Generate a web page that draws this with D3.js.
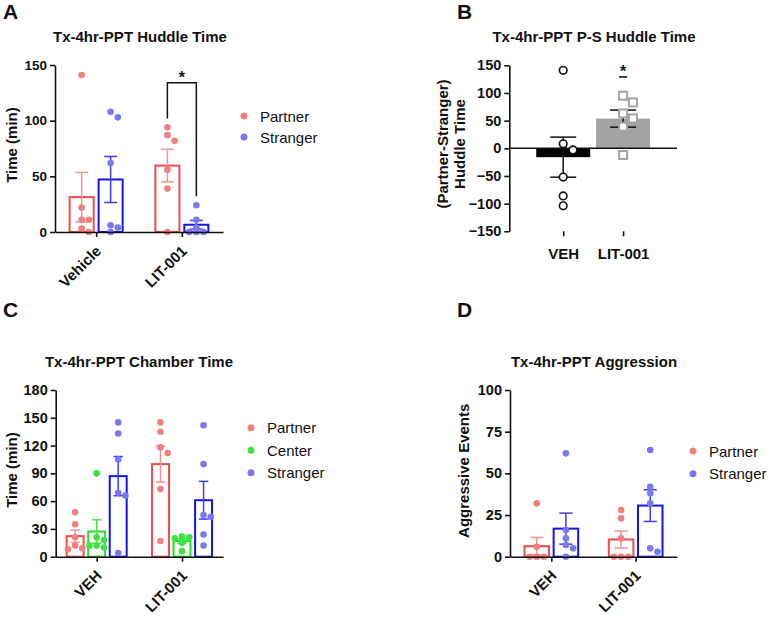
<!DOCTYPE html>
<html>
<head>
<meta charset="utf-8">
<script src="https://cdn.jsdelivr.net/npm/d3@7"></script>
<style>
  body { margin: 0; background: #fff; }
  svg { font-family: "Liberation Sans", Arial, sans-serif; }
</style>
</head>
<body>
<div id="chart"></div>
<script>
// ---- data ----
// A: huddle time (min)
var aGroups = ["Vehicle", "LIT-001"];
var aPartner = [[141, 22, 11, 11, 3, 0], [94, 87, 82, 56, 39, 0]];
var aStranger = [[108, 103, 62, 6, 4, 0], [24, 11, 4, 0, 0, 0]];
var aTicks = [0, 50, 100, 150];

// B: partner - stranger huddle time
var bGroups = ["VEH", "LIT-001"];
var bDiff = [[141, 8, -3, -52, -86, -104], [95, 83, 63, 54, 39, -12]];
var bTicks = [-150, -100, -50, 0, 50, 100, 150];

// C: chamber time (min)
var cGroups = ["VEH", "LIT-001"];
var cPartner = [[48, 35, 21, 12, 9, 8], [145, 135, 118, 112, 73, 17]];
var cCenter = [[90, 21, 18, 12, 12, 10], [22, 21, 20, 17, 15, 6]];
var cStranger = [[145, 133, 105, 69, 66, 4], [142, 100, 45, 43, 24, 12]];
var cTicks = [0, 30, 60, 90, 120, 150, 180];

// D: aggressive events
var dGroups = ["VEH", "LIT-001"];
var dPartner = [[32, 6, 0, 0, 0, 0], [28, 23, 11, 0, 0, 0]];
var dStranger = [[62, 16, 11, 7, 5, 0], [64, 42, 38, 32, 5, 3]];
var dTicks = [0, 25, 50, 75, 100];

// colours
var partnerCol = { bar: "#f24c4c", dot: "#f27f7f", err: "#f59393" };
var centerCol = { bar: "#22dd22", dot: "#3fe33f", err: "#4ce24c" };
var strangerCol = { bar: "#1414f0", dot: "#7878f2", err: "#3c3cf0" };

var W = 768, H = 618;
var svg = d3.select("#chart").append("svg")
  .attr("width", W)
  .attr("height", H);

function sem(a) { return d3.deviation(a) / Math.sqrt(a.length); }

// simple beeswarm so dots with close values sit side by side
function swarm(vals, y, r, maxOff) {
  var placed = [];
  var step = 2 * r + 0.6;
  return vals.map(function(v) {
    var py = y(v);
    var cands = [0];
    for (var k = 1; k < 6; k++) { cands.push(k * step, -k * step); }
    var off = 0;
    for (var i = 0; i < cands.length; i++) {
      var c = cands[i];
      if (Math.abs(c) > maxOff) continue;
      var ok = placed.every(function(p) { return Math.hypot(p[0] - c, p[1] - py) >= 2 * r; });
      if (ok) { off = c; break; }
    }
    placed.push([off, py]);
    return { v: v, dx: off };
  });
}

function styleAxis(sel, fontSize) {
  sel.selectAll("path, line").attr("stroke", "#111").attr("stroke-width", 1.6);
  sel.selectAll("text")
    .attr("fill", "#111")
    .attr("font-size", fontSize + "px")
    .attr("font-weight", "bold")
    .attr("font-family", "Liberation Sans, Arial, sans-serif");
}

function panelText(x, y, txt, size, weight, anchor) {
  return svg.append("text")
    .attr("x", x).attr("y", y)
    .attr("font-size", size + "px")
    .attr("font-weight", weight)
    .attr("text-anchor", anchor || "start")
    .attr("fill", "#111")
    .text(txt);
}

function groupedPanel(cfg) {
  var g = svg.append("g");
  var y = d3.scaleLinear().domain(cfg.domain).range([cfg.yBottom, cfg.yTop]);
  var x = d3.scalePoint().domain(cfg.groups).range([cfg.xLeft, cfg.xRight]).padding(cfg.pad);
  var names = cfg.series.map(function(s) { return s.name; });
  var inner = d3.scaleBand().domain(names)
    .range([-cfg.groupW / 2, cfg.groupW / 2])
    .paddingInner(cfg.innerPad);
  var bw = inner.bandwidth();

  // bars + error bars + dots
  cfg.series.forEach(function(s) {
    cfg.groups.forEach(function(grp, gi) {
      var vals = s.values[gi];
      var m = d3.mean(vals), e = sem(vals);
      var x0 = x(grp) + inner(s.name);
      var cx = x0 + bw / 2;
      g.append("rect")
        .attr("x", x0 + 1)
        .attr("y", y(m))
        .attr("width", bw - 2)
        .attr("height", cfg.yBottom - y(m))
        .attr("fill", "white")
        .attr("stroke", s.col.bar)
        .attr("stroke-width", 2);
      var eg = g.append("g").attr("stroke", s.col.err).attr("stroke-width", 1.5);
      eg.append("line").attr("x1", cx).attr("x2", cx).attr("y1", y(m - e)).attr("y2", y(m + e));
      [m - e, m + e].forEach(function(v) {
        eg.append("line").attr("x1", cx - bw / 4).attr("x2", cx + bw / 4).attr("y1", y(v)).attr("y2", y(v));
      });
      g.selectAll(null)
        .data(swarm(vals, y, cfg.r, bw / 2 - 1))
        .enter()
        .append("circle")
        .attr("cx", function(d) { return cx + d.dx; })
        .attr("cy", function(d) { return y(d.v); })
        .attr("r", cfg.r)
        .attr("fill", s.col.dot);
    });
  });

  // axes
  var ya = g.append("g")
    .attr("transform", "translate(" + cfg.xLeft + ",0)")
    .call(d3.axisLeft(y).tickValues(cfg.ticks).tickSize(5).tickSizeOuter(0).tickPadding(3));
  styleAxis(ya, cfg.tickFont);
  var xa = g.append("g")
    .attr("transform", "translate(0," + cfg.yBottom + ")")
    .call(d3.axisBottom(x).tickSize(5).tickSizeOuter(0).tickFormat(""));
  styleAxis(xa, cfg.tickFont);

  // rotated group labels
  cfg.groups.forEach(function(grp) {
    g.append("text")
      .attr("transform", "translate(" + (x(grp) + 6) + "," + (cfg.yBottom + 20) + ") rotate(-45)")
      .attr("text-anchor", "end")
      .attr("font-size", "15px")
      .attr("font-weight", "bold")
      .attr("fill", "#111")
      .text(grp);
  });

  // y label
  g.append("text")
    .attr("transform", "translate(" + cfg.yLabelX + "," + cfg.yLabelY + ") rotate(-90)")
    .attr("text-anchor", "middle")
    .attr("font-size", "15px")
    .attr("font-weight", "bold")
    .attr("fill", "#111")
    .text(cfg.yLabel);

  // legend
  cfg.series.forEach(function(s, i) {
    var ly = cfg.legY + i * cfg.legStep;
    g.append("circle").attr("cx", cfg.legX).attr("cy", ly).attr("r", 3.5).attr("fill", s.col.dot);
    g.append("text")
      .attr("x", cfg.legX + 16).attr("y", ly + 5.5)
      .attr("font-size", "15px")
      .attr("fill", "#111")
      .text(s.name);
  });

  return { x: x, y: y, inner: inner };
}

// ---------- Panel A ----------
panelText(3, 18.5, "A", 21, "bold");
panelText(140, 42, "Tx-4hr-PPT Huddle Time", 15, "bold", "middle");
var pa = groupedPanel({
  groups: aGroups,
  series: [
    { name: "Partner", values: aPartner, col: partnerCol },
    { name: "Stranger", values: aStranger, col: strangerCol }
  ],
  domain: [0, 150], ticks: aTicks,
  xLeft: 55, xRight: 223, yTop: 65, yBottom: 232,
  pad: 0.48, groupW: 55, innerPad: 0.1, r: 3.3, tickFont: 13.5,
  yLabel: "Time (min)", yLabelX: 16.5, yLabelY: 145,
  legX: 244, legY: 116, legStep: 21
});

// significance bracket on LIT-001
(function() {
  var bx1 = pa.x("LIT-001") + pa.inner("Partner") + pa.inner.bandwidth() / 2;
  var bx2 = pa.x("LIT-001") + pa.inner("Stranger") + pa.inner.bandwidth() / 2;
  var top = pa.y(134);
  var l1 = pa.y(d3.max(aPartner[1]) + 8);
  var l2 = pa.y(d3.max(aStranger[1]) + 8);
  svg.append("path")
    .attr("d", "M" + bx1 + "," + l1 + "V" + top + "H" + bx2 + "V" + l2)
    .attr("fill", "none")
    .attr("stroke", "#111")
    .attr("stroke-width", 1.5);
  panelText((bx1 + bx2) / 2, top + 0.5, "*", 16, "bold", "middle");
})();

// ---------- Panel B ----------
panelText(457, 18.5, "B", 21, "bold");
panelText(594, 42, "Tx-4hr-PPT P-S Huddle Time", 15, "bold", "middle");
(function() {
  var g = svg.append("g");
  var yB = d3.scaleLinear().domain([-150, 150]).range([231.3, 65.3]);
  var xB = d3.scalePoint().domain(bGroups).range([509.3, 677]).padding(0.9);
  var bw = 54;
  var fills = ["#000", "#a3a3a3"];

  bGroups.forEach(function(grp, gi) {
    var vals = bDiff[gi];
    var m = d3.mean(vals);
    g.append("rect")
      .attr("x", xB(grp) - bw / 2)
      .attr("y", Math.min(yB(m), yB(0)))
      .attr("width", bw)
      .attr("height", Math.abs(yB(m) - yB(0)))
      .attr("fill", fills[gi]);
  });

  // zero line
  g.append("line")
    .attr("x1", 509.3).attr("x2", 677)
    .attr("y1", yB(0)).attr("y2", yB(0))
    .attr("stroke", "#111").attr("stroke-width", 1.6);

  bGroups.forEach(function(grp, gi) {
    var vals = bDiff[gi];
    var m = d3.mean(vals), e = sem(vals);
    var cx = xB(grp);
    var eg = g.append("g").attr("stroke", "#111").attr("stroke-width", 1.5);
    eg.append("line").attr("x1", cx).attr("x2", cx).attr("y1", yB(m - e)).attr("y2", yB(m + e));
    [m - e, m + e].forEach(function(v) {
      eg.append("line").attr("x1", cx - 13).attr("x2", cx + 13).attr("y1", yB(v)).attr("y2", yB(v));
    });
    var pts = swarm(vals, yB, 4.6, 20);
    if (gi === 0) {
      g.selectAll(null).data(pts).enter().append("circle")
        .attr("cx", function(d) { return cx + d.dx; })
        .attr("cy", function(d) { return yB(d.v); })
        .attr("r", 3.8)
        .attr("fill", "white")
        .attr("stroke", "#111")
        .attr("stroke-width", 1.6);
    } else {
      g.selectAll(null).data(pts).enter().append("rect")
        .attr("x", function(d) { return cx + d.dx - 4; })
        .attr("y", function(d) { return yB(d.v) - 4; })
        .attr("width", 8).attr("height", 8)
        .attr("fill", "white")
        .attr("stroke", "#a3a3a3")
        .attr("stroke-width", 2);
    }
  });

  var ya = g.append("g")
    .attr("transform", "translate(509.3,0)")
    .call(d3.axisLeft(yB).tickValues(bTicks).tickSize(5).tickSizeOuter(0).tickPadding(3));
  styleAxis(ya, 14.5);

  var xa = g.append("g")
    .attr("transform", "translate(0,231.3)")
    .call(d3.axisBottom(xB).tickSize(5).tickSizeOuter(0).tickPadding(12));
  styleAxis(xa, 15);
  xa.select(".domain").remove();

  // significance mark over LIT-001
  var sx = xB("LIT-001");
  g.append("line")
    .attr("x1", sx - 4).attr("x2", sx + 4)
    .attr("y1", yB(129)).attr("y2", yB(129))
    .attr("stroke", "#111").attr("stroke-width", 1.6);
  panelText(sx, yB(129) + 0.5, "*", 16, "bold", "middle");

  // y label (two lines)
  g.append("text")
    .attr("transform", "translate(447.5,144) rotate(-90)")
    .attr("text-anchor", "middle")
    .attr("font-size", "15px").attr("font-weight", "bold").attr("fill", "#111")
    .text("(Partner-Stranger)");
  g.append("text")
    .attr("transform", "translate(465,144) rotate(-90)")
    .attr("text-anchor", "middle")
    .attr("font-size", "15px").attr("font-weight", "bold").attr("fill", "#111")
    .text("Huddle Time");
})();

// ---------- Panel C ----------
panelText(3, 316.7, "C", 21, "bold");
panelText(139, 366.7, "Tx-4hr-PPT Chamber Time", 15, "bold", "middle");
groupedPanel({
  groups: cGroups,
  series: [
    { name: "Partner", values: cPartner, col: partnerCol },
    { name: "Center", values: cCenter, col: centerCol },
    { name: "Stranger", values: cStranger, col: strangerCol }
  ],
  domain: [0, 180], ticks: cTicks,
  xLeft: 55.7, xRight: 223, yTop: 390, yBottom: 556.7,
  pad: 0.48, groupW: 62, innerPad: 0.12, r: 3.3, tickFont: 14.5,
  yLabel: "Time (min)", yLabelX: 16.5, yLabelY: 470,
  legX: 251, legY: 427.7, legStep: 22.5
});

// ---------- Panel D ----------
panelText(457, 316.7, "D", 21, "bold");
panelText(594, 366.5, "Tx-4hr-PPT Aggression", 15, "bold", "middle");
groupedPanel({
  groups: dGroups,
  series: [
    { name: "Partner", values: dPartner, col: partnerCol },
    { name: "Stranger", values: dStranger, col: strangerCol }
  ],
  domain: [0, 100], ticks: dTicks,
  xLeft: 510, xRight: 677, yTop: 390, yBottom: 556.7,
  pad: 0.49, groupW: 55.7, innerPad: 0.09, r: 3.3, tickFont: 14.5,
  yLabel: "Aggressive Events", yLabelX: 469, yLabelY: 470.8,
  legX: 693, legY: 451, legStep: 22.7
});
</script>
</body>
</html>
